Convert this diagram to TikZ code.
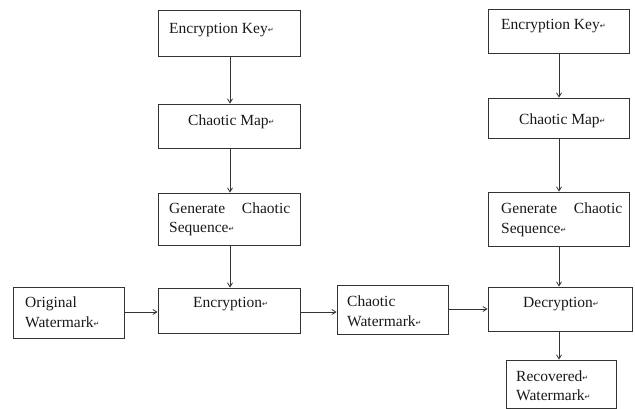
\documentclass[tikz,border=0pt]{standalone}
\usepackage{fontspec}
\setmainfont{Liberation Serif}
\newfontfamily\symfont{DejaVu Sans}
\usetikzlibrary{arrows.meta}
\newcommand{\ret}{{\symfont\fontsize{7}{7}\selectfont\raisebox{0.5pt}{↵}}}
\begin{document}
\begin{tikzpicture}[x=1pt,y=-1pt,
  box/.style={draw=black!80, line width=0.9pt, rectangle, inner sep=0pt},
  txt/.style={anchor=base west, inner sep=0pt, font=\fontsize{15.5}{20}\selectfont, text=black!90},
  arr/.style={draw=black!80, line width=0.8pt, -{Straight Barb[length=4pt,width=5pt]}}]
\useasboundingbox (0,0) rectangle (635,408);
% left column boxes
\node[box, minimum width=142pt, minimum height=46pt] (k1) at (229,33) {};
\node[box, minimum width=142pt, minimum height=44pt] (m1) at (229,126) {};
\node[box, minimum width=142pt, minimum height=52pt] (g1) at (229,219) {};
\node[box, minimum width=142pt, minimum height=45pt] (enc) at (229,310.5) {};
\node[box, minimum width=111pt, minimum height=51pt] (ow) at (68.5,312.5) {};
\node[box, minimum width=111pt, minimum height=49pt] (cw) at (392.5,309.5) {};
% right column
\node[box, minimum width=141pt, minimum height=44pt] (k2) at (558.5,31) {};
\node[box, minimum width=141pt, minimum height=40pt] (m2) at (558.5,118) {};
\node[box, minimum width=141pt, minimum height=54pt] (g2) at (558.5,219) {};
\node[box, minimum width=144pt, minimum height=44pt] (dec) at (560,309) {};
\node[box, minimum width=110pt, minimum height=48pt] (rw) at (561,384) {};
% texts
\node[txt] (t1) at (169,33) {Encryption Key\ret};
\node[txt] (t2) at (188,125) {Chaotic Map\ret};
\node[txt] (t3) at (169,213) {\hbox to 121pt{Generate\hfil Chaotic}};
\node[txt] (t4) at (169,232) {Sequence\ret};
\node[txt] (t5) at (193,307) {Encryption\ret};
\node[txt] (t6) at (25,307) {Original};
\node[txt] (t7) at (25,327) {Watermark\ret};
\node[txt] (t8) at (347,306) {Chaotic};
\node[txt] (t9) at (347,326) {Watermark\ret};
\node[txt] (t10) at (501,29) {Encryption Key\ret};
\node[txt] (t11) at (519,124) {Chaotic Map\ret};
\node[txt] (t12) at (501,213) {\hbox to 121pt{Generate\hfil Chaotic}};
\node[txt] (t13) at (501,233) {Sequence\ret};
\node[txt] (t14) at (523,307) {Decryption\ret};
\node[txt] (t15) at (516,381) {Recovered\ret};
\node[txt] (t16) at (516,400) {Watermark\ret};
% arrows
\draw[arr] (k1.south -| 230,0) -- (m1.north -| 230,0);
\draw[arr] (m1.south -| 230,0) -- (g1.north -| 230,0);
\draw[arr] (g1.south -| 230,0) -- (enc.north -| 230,0);
\draw[arr] (k2.south -| 559,0) -- (m2.north -| 559,0);
\draw[arr] (m2.south -| 559,0) -- (g2.north -| 559,0);
\draw[arr] (g2.south -| 559,0) -- (dec.north -| 559,0);
\draw[arr] (dec.south -| 559,0) -- (rw.north -| 559,0);
\draw[arr] (ow.east |- 0,312) -- (enc.west |- 0,312);
\draw[arr] (enc.east |- 0,312) -- (cw.west |- 0,312);
\draw[arr] (cw.east |- 0,309) -- (dec.west |- 0,309);
\end{tikzpicture}
\end{document}
